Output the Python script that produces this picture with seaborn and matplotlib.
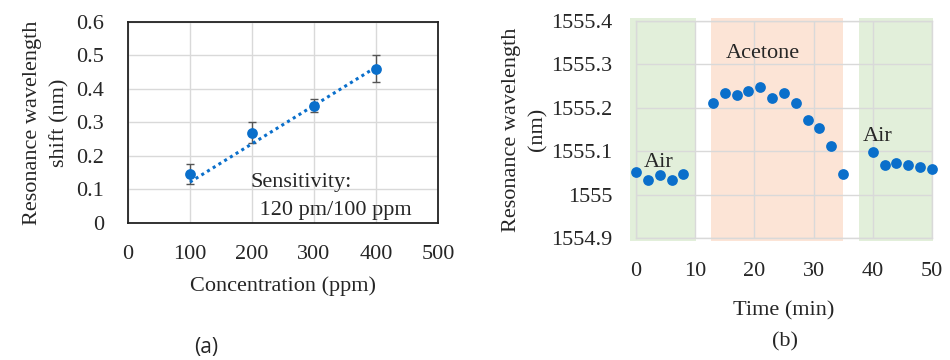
import numpy as np
import pandas as pd
import matplotlib.pyplot as plt
import seaborn as sns

# ============================================================
# DATA
# ============================================================
conc_ppm = [100, 200, 300, 400]
shift_nm = [0.145, 0.27, 0.35, 0.46]
err_low = [0.115, 0.24, 0.33, 0.42]
err_high = [0.176, 0.30, 0.37, 0.50]
trend_x = [100, 400]
trend_y = [0.122, 0.465]

time_min = [0, 2, 4, 6, 8,
            13, 15, 17, 19, 21, 23, 25, 27, 29, 31, 33, 35,
            40, 42, 44, 46, 48, 50]
wavelength = [1555.053, 1555.033, 1555.044, 1555.033, 1555.048,
              1555.212, 1555.233, 1555.229, 1555.238, 1555.248, 1555.223,
              1555.233, 1555.212, 1555.173, 1555.153, 1555.113, 1555.048,
              1555.099, 1555.068, 1555.073, 1555.069, 1555.063, 1555.058]
# shaded phases: (start, end, colour)
phases = [(-1.0, 10.1, '#E2EFDA'), (12.7, 35.0, '#FCE4D6'), (37.6, 50.2, '#E2EFDA')]

df_a = pd.DataFrame({'conc': conc_ppm, 'shift': shift_nm})
df_b = pd.DataFrame({'time': time_min, 'wl': wavelength})

BLUE = '#0A6FCB'
GRID = '#D9D9D9'

sns.set_theme(style='white')
plt.rcParams['font.family'] = ['Liberation Serif', 'DejaVu Serif']
FS = 16

fig = plt.figure(figsize=(9.5, 3.6), dpi=100)
ax1 = fig.add_axes([0.1347, 0.3806, 0.3263, 0.5584])
ax2 = fig.add_axes([0.6695, 0.3389, 0.3115, 0.6028])

# ============================================================
# (a) SHIFT VS CONCENTRATION
# ============================================================
yerr = np.array([np.array(shift_nm) - np.array(err_low),
                 np.array(err_high) - np.array(shift_nm)])
ax1.errorbar(conc_ppm, shift_nm, yerr=yerr, fmt='none', ecolor='#555555',
             elinewidth=1.0, capsize=3, capthick=1.0, zorder=2)
ax1.plot(trend_x, trend_y, linestyle=(0, (1, 1.2)), color=BLUE, lw=2.2, zorder=3)
sns.scatterplot(data=df_a, x='conc', y='shift', ax=ax1, color=BLUE, s=60,
                linewidth=0, zorder=4)
ax1.set_xlim(0, 500)
ax1.set_ylim(0, 0.6)
ax1.set_xticks([0, 100, 200, 300, 400, 500])
ax1.set_yticks([0, 0.1, 0.2, 0.3, 0.4, 0.5, 0.6])
ax1.set_yticklabels(['0', '0.1', '0.2', '0.3', '0.4', '0.5', '0.6'])
ax1.grid(True, color=GRID, lw=1.0)
ax1.set_axisbelow(True)
for sp in ax1.spines.values():
    sp.set_color('#222222')
    sp.set_linewidth(1.3)
ax1.tick_params(axis='x', length=0, pad=16, labelsize=FS)
ax1.tick_params(axis='y', length=0, pad=17, labelsize=FS)
ax1.set_xlabel('Concentration (ppm)', fontsize=FS, labelpad=9)
ax1.set_ylabel('Resonance wavelength\nshift (nm)', fontsize=FS, linespacing=1.55)
ax1.yaxis.set_label_coords(-0.19, 0.5)
ax1.text(197, 0.12, 'Sensitivity:', fontsize=FS, va='center', ha='left')
ax1.text(203, 0.038, ' 120 pm/100 ppm', fontsize=FS, va='center', ha='left')

# ============================================================
# (b) WAVELENGTH VS TIME
# ============================================================
for start, end, col in phases:
    ax2.axvspan(start, end, ymin=-0.012, ymax=1.012, color=col, lw=0,
                zorder=0, clip_on=False)
sns.scatterplot(data=df_b, x='time', y='wl', ax=ax2, color=BLUE, s=60,
                linewidth=0, zorder=4, clip_on=False)
ax2.set_xlim(0, 50)
ax2.set_ylim(1554.9, 1555.4)
ax2.set_xticks([0, 10, 20, 30, 40, 50])
ax2.set_yticks([1554.9, 1555.0, 1555.1, 1555.2, 1555.3, 1555.4])
ax2.set_yticklabels(['1554.9', '1555', '1555.1', '1555.2', '1555.3', '1555.4'])
ax2.grid(True, color=GRID, lw=1.0, zorder=1)
ax2.set_axisbelow(True)
for sp in ax2.spines.values():
    sp.set_color(GRID)
    sp.set_linewidth(1.0)
ax2.tick_params(axis='x', length=0, pad=17, labelsize=FS)
ax2.tick_params(axis='y', length=0, pad=17, labelsize=FS)
ax2.set_xlabel('Time (min)', fontsize=FS, labelpad=15)
ax2.set_ylabel('Resonance wavelength\n(nm)', fontsize=FS, linespacing=1.5)
ax2.yaxis.set_label_coords(-0.30, 0.5)
ax2.text(21.4, 1555.326, 'Acetone', fontsize=FS, ha='center', va='center')
ax2.text(3.9, 1555.074, 'Air', fontsize=FS, ha='center', va='center')
ax2.text(40.8, 1555.135, 'Air', fontsize=FS, ha='center', va='center')

# panel letters
fig.text(206 / 950, 1 - 348 / 360, '(a)', fontsize=FS - 1, ha='center', va='center',
         family=['Open Sans', 'DejaVu Sans'])
fig.text(785 / 950, 1 - 342 / 360, '(b)', fontsize=FS, ha='center', va='center')

fig.savefig('out.png', dpi=100)
